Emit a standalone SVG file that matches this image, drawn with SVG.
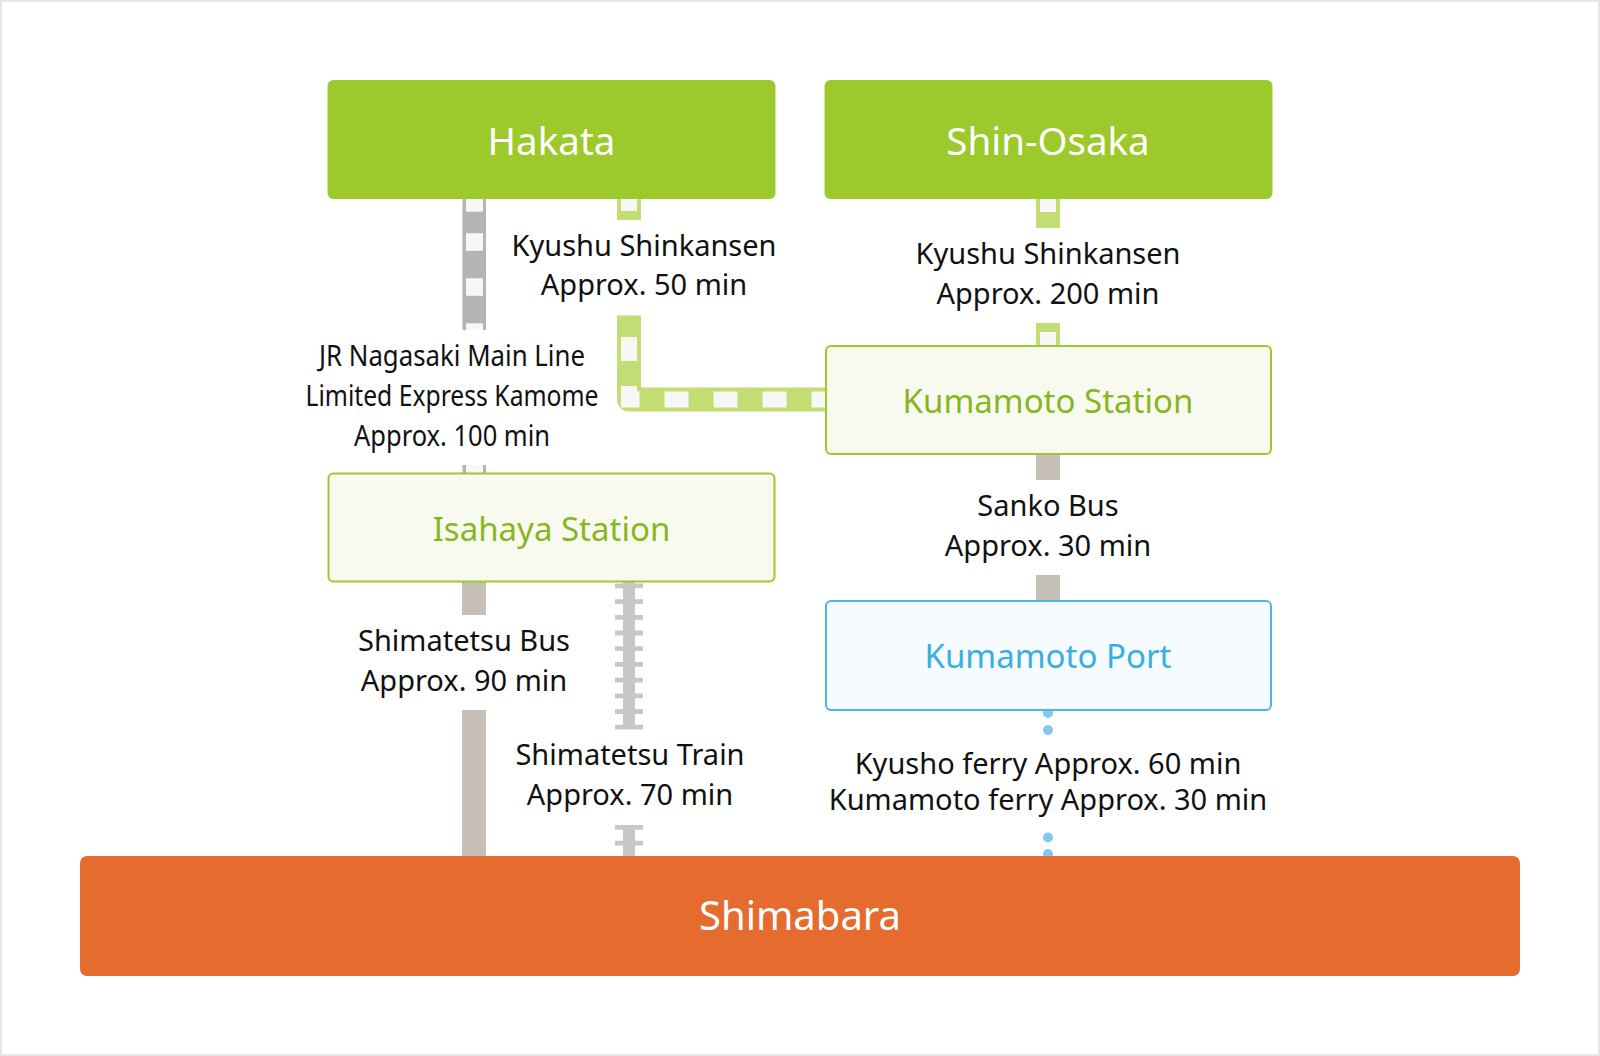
<svg xmlns="http://www.w3.org/2000/svg" width="1600" height="1056" viewBox="0 0 1600 1056">
<style>
.lbl{font-family:"Noto Sans","Open Sans",sans-serif;font-size:29px;fill:#111;text-anchor:middle}
.big{font-family:"Noto Sans","Open Sans",sans-serif;font-size:38.5px;fill:#fff;text-anchor:middle}
.stn{font-family:"Noto Sans","Open Sans",sans-serif;font-size:33px;text-anchor:middle}
.g{fill:#9cc92b}
.sbox{fill:#f8faf0;stroke:#9cc92b;stroke-width:2}
.pbox{fill:#f5fbfe;stroke:#4ab4e4;stroke-width:2}
.jr{fill:#b3b5b2}
.sq{fill:#f8f7f5}
.lg{fill:#c1dd74}
.bus{fill:#c5bfb5}
.dot{fill:#7fcaee}
</style>
<rect x="1" y="1" width="1598" height="1054" fill="#fff" stroke="#e6e6e6" stroke-width="2"/>
<g id="connectors">
  <!-- JR Nagasaki Main Line (gray) -->
  <rect class="jr" x="462.5" y="190" width="23.5" height="140"/>
  <rect class="sq" x="466" y="190" width="17" height="21.7"/>
  <rect class="sq" x="466" y="233.3" width="17" height="17.5"/>
  <rect class="sq" x="466" y="278.3" width="17" height="17.5"/>
  <rect class="sq" x="466" y="323.3" width="17" height="6.7"/>
  <rect class="jr" x="462.5" y="465" width="23.5" height="12"/>
  <rect class="sq" x="466" y="465" width="17" height="12"/>
  <!-- Kyushu Shinkansen Hakata - Kumamoto -->
  <rect class="lg" x="617" y="190" width="24" height="30"/>
  <rect class="sq" x="621" y="190" width="16" height="21"/>
  <path d="M629,316 V399.5 H830" fill="none" stroke="#c1dd74" stroke-width="24" stroke-linejoin="round"/>
  <path d="M629,316 V399.5 H830" fill="none" stroke="#f8f7f5" stroke-width="16" stroke-dasharray="24 25" stroke-dashoffset="28"/>
  <rect class="lg" x="617" y="315.5" width="24" height="6"/>
  <!-- Kyushu Shinkansen Shin-Osaka - Kumamoto -->
  <rect class="lg" x="1036" y="190" width="24" height="38"/>
  <rect class="sq" x="1040" y="190" width="16" height="22"/>
  <rect class="lg" x="1036" y="323" width="24" height="28"/>
  <rect class="sq" x="1040" y="332" width="16" height="19"/>
  <!-- Sanko Bus -->
  <rect class="bus" x="1036" y="450" width="24" height="30"/>
  <rect class="bus" x="1036" y="575" width="24" height="30"/>
  <!-- Shimatetsu Bus -->
  <rect class="bus" x="462" y="578" width="24" height="37"/>
  <rect class="bus" x="462" y="710" width="24" height="150"/>
  <!-- Shimatetsu Train -->
  <rect x="623" y="578" width="12" height="151" fill="#c6c7c6"/>
  <line x1="629" y1="583.5" x2="629" y2="730" stroke="#c6c7c6" stroke-width="28" stroke-dasharray="4.8 10.9"/>
  <rect x="623" y="825" width="12" height="35" fill="#c6c7c6"/>
  <line x1="629" y1="825" x2="629" y2="860" stroke="#c6c7c6" stroke-width="28" stroke-dasharray="4.8 10.9"/>
  <!-- Ferry dots -->
  <circle class="dot" cx="1048" cy="713" r="5"/>
  <circle class="dot" cx="1048" cy="730" r="5"/>
  <circle class="dot" cx="1048" cy="837.5" r="5"/>
  <circle class="dot" cx="1048" cy="854" r="5"/>
</g>
<g id="hakata">
  <rect class="g" x="327.5" y="80" width="448" height="119" rx="6"/>
  <text class="big" x="551.5" y="154.5">Hakata</text>
</g>
<g id="shin-osaka">
  <rect class="g" x="824.5" y="80" width="448" height="119" rx="6"/>
  <text class="big" x="1048" y="154.5">Shin-Osaka</text>
</g>
<g id="kumamoto-station">
  <rect class="sbox" x="826" y="346" width="445" height="108" rx="5"/>
  <text class="stn" x="1048" y="413" fill="#88b620">Kumamoto Station</text>
</g>
<g id="isahaya-station">
  <rect class="sbox" x="328.5" y="473.5" width="446" height="108" rx="5"/>
  <text class="stn" x="551.5" y="541" fill="#88b620">Isahaya Station</text>
</g>
<g id="kumamoto-port">
  <rect class="pbox" x="826" y="601" width="445" height="109" rx="5"/>
  <text class="stn" x="1048" y="668" fill="#3aaee2">Kumamoto Port</text>
</g>
<g id="shimabara">
  <rect x="80" y="856" width="1440" height="120" rx="7" fill="#e56b2f"/>
  <text class="big" x="800" y="930" style="font-size:40px">Shimabara</text>
</g>
<g id="labels">
  <text class="lbl" x="644" y="256">Kyushu Shinkansen</text>
  <text class="lbl" x="644" y="295">Approx. 50 min</text>
  <text class="lbl" x="1048" y="264">Kyushu Shinkansen</text>
  <text class="lbl" x="1048" y="304">Approx. 200 min</text>
  <text class="lbl" x="452" y="366" textLength="266" lengthAdjust="spacingAndGlyphs">JR Nagasaki Main Line</text>
  <text class="lbl" x="452" y="406" textLength="293" lengthAdjust="spacingAndGlyphs">Limited Express Kamome</text>
  <text class="lbl" x="452" y="446" textLength="196" lengthAdjust="spacingAndGlyphs">Approx. 100 min</text>
  <text class="lbl" x="1048" y="516">Sanko Bus</text>
  <text class="lbl" x="1048" y="556">Approx. 30 min</text>
  <text class="lbl" x="464" y="651">Shimatetsu Bus</text>
  <text class="lbl" x="464" y="691">Approx. 90 min</text>
  <text class="lbl" x="630" y="765">Shimatetsu Train</text>
  <text class="lbl" x="630" y="805">Approx. 70 min</text>
  <text class="lbl" x="1048" y="774">Kyusho ferry Approx. 60 min</text>
  <text class="lbl" x="1048" y="810">Kumamoto ferry Approx. 30 min</text>
</g>
</svg>
